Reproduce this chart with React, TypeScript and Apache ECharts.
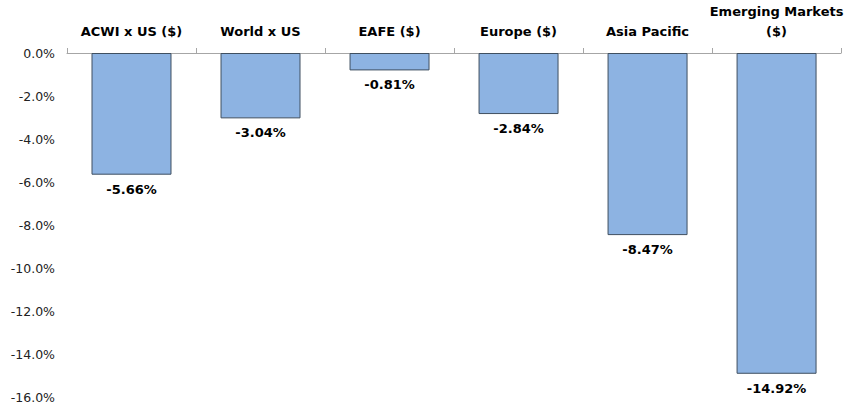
import React, { useEffect, useRef } from "react";
import * as echarts from "echarts";

const categories = ["ACWI x US ($)", "World x US", "EAFE ($)", "Europe ($)", "Asia Pacific", "Emerging Markets\n($)"];
const values = [-5.66, -3.04, -0.81, -2.84, -8.47, -14.92];
const yMin = -16;
const yMax = 0;
const yStep = 2;

export default function App() {
  const ref = useRef<HTMLDivElement>(null);
  useEffect(() => {
    document.body.style.margin = "0";
    const chart = echarts.init(ref.current!, null, { renderer: "svg" });
    const font = "Tahoma, 'DejaVu Sans', sans-serif";
    chart.setOption({
      animation: false,
      grid: { left: 67, right: 0, top: 53, bottom: 8, containLabel: false },
      xAxis: {
        type: "category",
        position: "top",
        data: categories,
        axisLine: { show: true, lineStyle: { color: "#a6a6a6", width: 1 } },
        axisTick: { show: true, length: 5, lineStyle: { color: "#a6a6a6" } },
        axisLabel: {
          interval: 0,
          margin: 12,
          color: "#000",
          fontWeight: "bold",
          fontSize: 13,
          fontFamily: font,
          lineHeight: 20,
        },
      },
      yAxis: {
        type: "value",
        min: yMin,
        max: yMax,
        interval: yStep,
        axisLine: { show: false },
        axisTick: { show: false },
        splitLine: { show: false },
        axisLabel: {
          margin: 12,
          color: "#222",
          fontSize: 12.5,
          fontFamily: font,
          formatter: (v: number) => v.toFixed(1) + "%",
        },
      },
      series: [
        {
          type: "bar",
          data: values,
          barCategoryGap: "38%",
          itemStyle: { color: "#8db3e2", borderColor: "#3f4f60", borderWidth: 1 },
          label: {
            show: true,
            position: "bottom",
            distance: 8,
            color: "#000",
            fontWeight: "bold",
            fontSize: 13,
            fontFamily: font,
            formatter: (p: any) => p.value.toFixed(2) + "%",
          },
        },
      ],
    });
    return () => chart.dispose();
  }, []);
  return <div ref={ref} style={{ width: 846, height: 405 }} />;
}
